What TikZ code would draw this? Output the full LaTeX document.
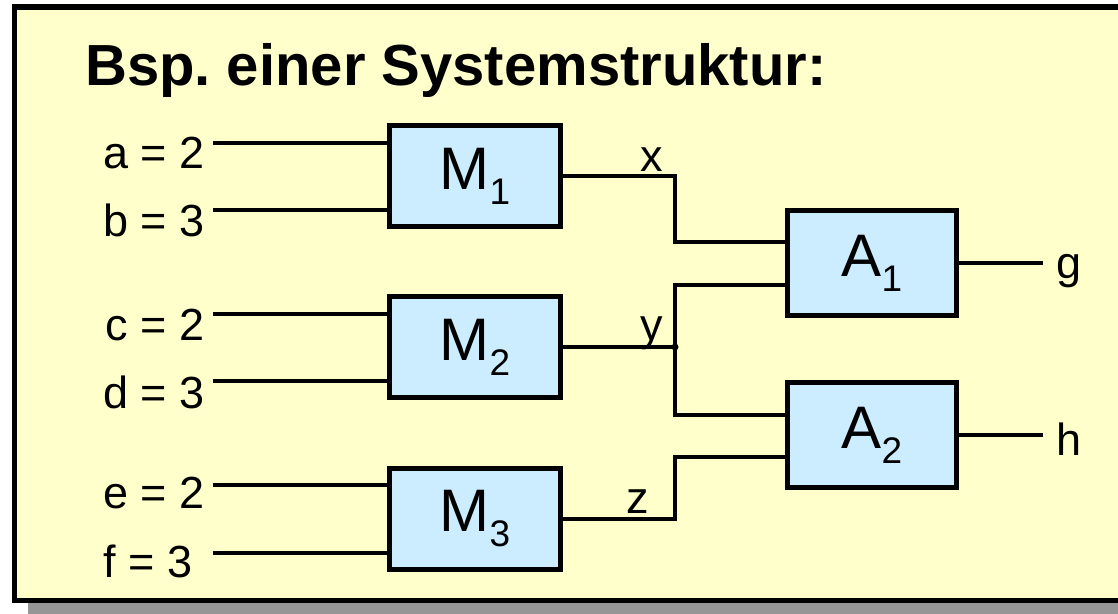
\documentclass[tikz,border=0pt]{standalone}
\usepackage{fontspec}
\setmainfont{Liberation Sans}
\usetikzlibrary{positioning}

\definecolor{paper}{RGB}{255,255,204}
\definecolor{boxblue}{RGB}{204,236,255}
\definecolor{shadowgray}{RGB}{150,150,150}

\newcommand{\idx}[1]{\raisebox{-15pt}{\fontsize{37}{37}\selectfont #1}}

\tikzset{
  block/.style={draw,line width=5pt,fill=boxblue,minimum width=171pt,minimum height=101pt,
    inner sep=0pt,font=\fontsize{60}{60}\selectfont},
  wire/.style={line width=4.5pt},
  lbl/.style={inner sep=0pt,font=\fontsize{45}{45}\selectfont}
}

\begin{document}
\begin{tikzpicture}[x=1pt,y=-1pt]
        \useasboundingbox (0,0) rectangle (1118,613);
        \clip (0,0) rectangle (1118,613);
        % frame with shadow
        \fill[shadowgray] (28,19) rectangle (1140,630);
        \draw[line width=5.5pt,fill=paper] (14.5,7) rectangle (1130,600.5);
        \node[anchor=base west,inner sep=0pt,font=\fontsize{58}{58}\selectfont\bfseries] (title) at (85,85) {Bsp.\ einer Systemstruktur:};

        % blocks
        \node[block] (M1) at (475,176) {M\idx{1}};
        \node[block] (M2) at (475,347) {M\idx{2}};
        \node[block] (M3) at (475,519) {M\idx{3}};
        \node[block,minimum width=169pt,minimum height=105pt] (A1) at (872,263) {A\idx{1}};
        \node[block,minimum width=169pt,minimum height=105pt] (A2) at (872,435) {A\idx{2}};

        % inputs
        \coordinate (ia) at (213,143);
        \coordinate (ib) at (213,210);
        \coordinate (ic) at (213,314);
        \coordinate (id) at (213,381);
        \coordinate (ie) at (213,485);
        \coordinate (if) at (213,553);
        \node[lbl,anchor=base east] (la) at (205,168) {a = 2};
        \node[lbl,anchor=base east] (lb) at (205,236) {b = 3};
        \node[lbl,anchor=base east] (lc) at (205,340) {c = 2};
        \node[lbl,anchor=base east] (ld) at (205,408) {d = 3};
        \node[lbl,anchor=base east] (le) at (205,508) {e = 2};
        \node[lbl,anchor=base east] (lf) at (193,577) {f = 3};
        \draw[wire] (ia) -- (ia -| M1.west);
        \draw[wire] (ib) -- (ib -| M1.west);
        \draw[wire] (ic) -- (ic -| M2.west);
        \draw[wire] (id) -- (id -| M2.west);
        \draw[wire] (ie) -- (ie -| M3.west);
        \draw[wire] (if) -- (if -| M3.west);

        % inner connections
        \coordinate (jy) at (675,347);
        \draw[wire] (M1.east) -- ++(112,0) |- ([yshift=21pt]A1.west);
        \draw[wire] (M2.east) -- (jy);
        \draw[wire] ([yshift=-22pt]A1.west) -| (jy) |- ([yshift=20pt]A2.west);
        \draw[wire] (M3.east) -- ++(112,0) |- ([yshift=-22pt]A2.west);
        \fill (jy) circle (3.5pt);
        \node[lbl,anchor=base] (lx) at (652,171) {x};
        \node[lbl,anchor=base] (ly) at (652,340) {y};
        \node[lbl,anchor=base] (lz) at (638,513) {z};

        % outputs
        \coordinate (og) at (1043,263);
        \coordinate (oh) at (1043,435);
        \draw[wire] (A1.east) -- (og);
        \draw[wire] (A2.east) -- (oh);
        \node[lbl,anchor=base west] (lg) at (1056,278) {g};
        \node[lbl,anchor=base west] (lh) at (1056,455) {h};
\end{tikzpicture}
\end{document}
